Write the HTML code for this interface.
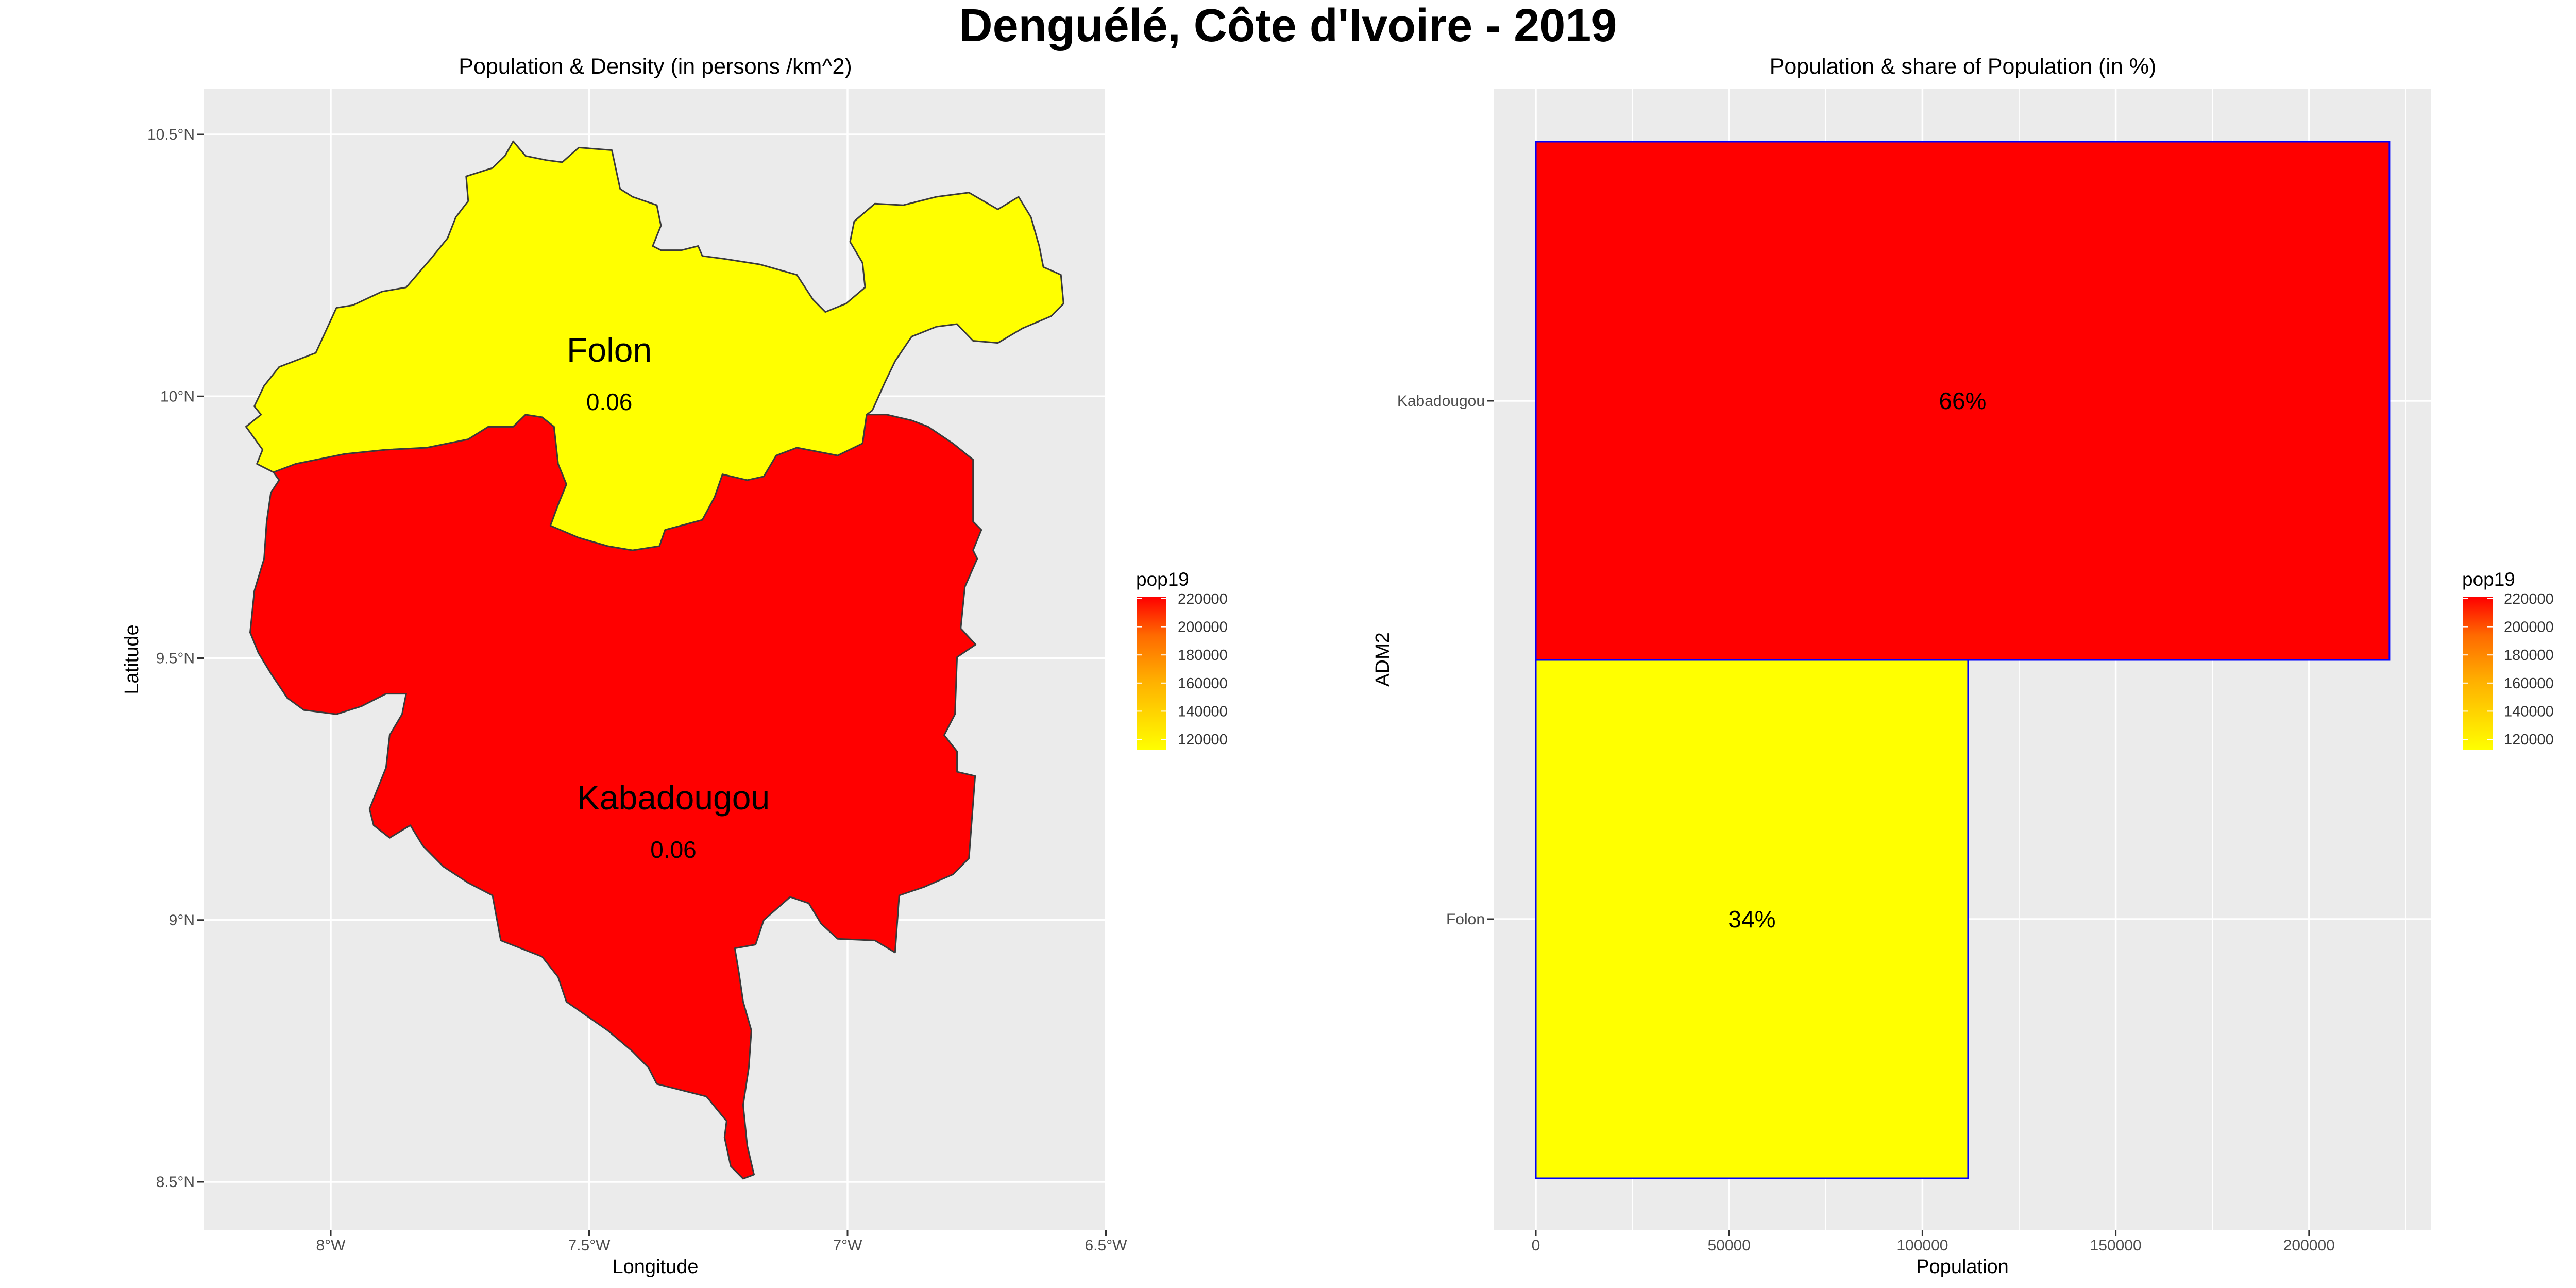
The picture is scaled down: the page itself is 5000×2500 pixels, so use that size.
<!DOCTYPE html>
<html><head><meta charset="utf-8">
<style>
html,body{margin:0;padding:0;background:#fff;}
svg{display:block;font-family:"Liberation Sans",Arial,sans-serif;}
</style></head>
<body>
<svg id="chart" xmlns="http://www.w3.org/2000/svg" width="5000" height="2500" viewBox="0 0 5000 2500">
<rect x="0" y="0" width="5000" height="2500" fill="#fff"/>
<text x="2500" y="80" font-size="90" font-weight="bold" text-anchor="middle">Denguélé, Côte d'Ivoire - 2019</text>
<g id="map"></g>
<g id="bars"></g>
</svg>
<script>
// ---------- data ----------
const regions = ["Kabadougou", "Folon"];
const pop19 = [220800, 111800];
const shares = ["66%", "34%"];
const densityLabels = ["0.06", "0.06"];
const lonTicks = [-8, -7.5, -7, -6.5];
const lonTickLabels = ["8°W", "7.5°W", "7°W", "6.5°W"];
const latTicks = [10.5, 10, 9.5, 9, 8.5];
const latTickLabels = ["10.5°N", "10°N", "9.5°N", "9°N", "8.5°N"];
const popTicks = [0, 50000, 100000, 150000, 200000];
const popMinor = [25000, 75000, 125000, 175000, 225000];
const legendTicks = [120000, 140000, 160000, 180000, 200000, 220000];
const folonOuterLon = [-8.111,-8.143,-8.132,-8.164,-8.135,-8.148,-8.129,-8.100,-8.029,-7.989,-7.957,-7.901,-7.854,-7.806,-7.774,-7.758,-7.734,-7.738,-7.687,-7.663,-7.647,-7.623,-7.583,-7.552,-7.520,-7.456,-7.440,-7.416,-7.369,-7.361,-7.377,-7.361,-7.321,-7.289,-7.281,-7.242,-7.170,-7.098,-7.067,-7.043,-7.003,-6.966,-6.971,-6.995,-6.987,-6.947,-6.892,-6.828,-6.765,-6.709,-6.669,-6.645,-6.629,-6.621,-6.587,-6.582,-6.606,-6.661,-6.709,-6.757,-6.788,-6.828,-6.876,-6.908,-6.927,-6.952,-6.963];
const folonOuterLat = [9.855,9.871,9.898,9.942,9.965,9.981,10.020,10.056,10.083,10.169,10.174,10.200,10.208,10.263,10.302,10.342,10.373,10.420,10.436,10.459,10.487,10.459,10.451,10.447,10.475,10.470,10.396,10.381,10.365,10.326,10.287,10.279,10.279,10.287,10.268,10.263,10.252,10.232,10.185,10.161,10.177,10.208,10.255,10.295,10.334,10.368,10.365,10.381,10.389,10.357,10.381,10.342,10.287,10.247,10.232,10.177,10.153,10.130,10.102,10.106,10.138,10.133,10.114,10.067,10.028,9.973,9.965];
const borderLon = [-6.963,-6.971,-7.019,-7.098,-7.138,-7.162,-7.194,-7.242,-7.257,-7.281,-7.353,-7.364,-7.416,-7.464,-7.520,-7.575,-7.560,-7.544,-7.560,-7.568,-7.591,-7.623,-7.647,-7.695,-7.734,-7.814,-7.893,-7.973,-8.068,-8.111];
const borderLat = [9.965,9.910,9.887,9.902,9.887,9.847,9.840,9.851,9.808,9.764,9.745,9.714,9.706,9.714,9.730,9.753,9.793,9.832,9.871,9.942,9.960,9.965,9.942,9.942,9.918,9.902,9.898,9.890,9.871,9.855];
const kabOuterLon = [-6.924,-6.876,-6.844,-6.796,-6.757,-6.757,-6.757,-6.741,-6.757,-6.749,-6.773,-6.781,-6.752,-6.788,-6.792,-6.813,-6.788,-6.788,-6.753,-6.765,-6.796,-6.852,-6.900,-6.908,-6.947,-7.019,-7.051,-7.075,-7.111,-7.162,-7.178,-7.218,-7.210,-7.202,-7.186,-7.191,-7.202,-7.194,-7.181,-7.202,-7.226,-7.238,-7.234,-7.273,-7.369,-7.385,-7.416,-7.464,-7.544,-7.560,-7.591,-7.671,-7.687,-7.734,-7.782,-7.822,-7.846,-7.886,-7.917,-7.925,-7.893,-7.886,-7.862,-7.854,-7.893,-7.941,-7.989,-8.052,-8.084,-8.116,-8.140,-8.156,-8.148,-8.129,-8.124,-8.116,-8.100];
const kabOuterLat = [9.965,9.954,9.942,9.910,9.879,9.800,9.761,9.745,9.706,9.690,9.636,9.557,9.526,9.502,9.393,9.353,9.322,9.283,9.275,9.118,9.087,9.063,9.047,8.938,8.961,8.964,8.993,9.032,9.044,9.000,8.953,8.946,8.898,8.844,8.789,8.718,8.647,8.569,8.514,8.506,8.530,8.585,8.616,8.663,8.687,8.718,8.749,8.789,8.844,8.891,8.930,8.961,9.047,9.071,9.102,9.142,9.181,9.157,9.181,9.212,9.291,9.353,9.393,9.432,9.432,9.408,9.393,9.401,9.424,9.471,9.510,9.549,9.628,9.690,9.761,9.816,9.840];
const folonLabelPos = [-7.461, 10.089];
const kabLabelPos = [-7.337, 9.234];

// ---------- helpers ----------
const NS = "http://www.w3.org/2000/svg";
function mk(tag, attrs, parent, txt) {
  const e = document.createElementNS(NS, tag);
  for (const k in attrs) e.setAttribute(k, attrs[k]);
  if (txt !== undefined) e.textContent = txt;
  parent.appendChild(e);
  return e;
}
const GRID = "#FFFFFF", PANEL = "#EBEBEB", TICKC = "#333333", TLAB = "#4D4D4D";

// ---------- map panel ----------
const map = document.getElementById("map");
const mL = 395, mR = 2146, mT = 172, mB = 2388;
const xLon = lon => 642 + (lon + 8) * 1003;
const yLat = lat => 261 + (10.5 - lat) * 1016.5;
let e;
e = mk("rect", {x: mL, y: mT, width: mR - mL, height: mB - mT, fill: PANEL}, map);


lonTicks.forEach((v, i) => {
  const x = xLon(v);
  e = mk("line", {x1: x, x2: x, y1: mT, y2: mB, stroke: GRID, "stroke-width": 3.5}, map);
  
  
  e = mk("line", {x1: x, x2: x, y1: mB, y2: mB + 12, stroke: TICKC, "stroke-width": 3}, map);
  
  
  e = mk("text", {x: x, y: 2427, "font-size": 30, fill: TLAB, "text-anchor": "middle"}, map, lonTickLabels[i]);
  
  
});
latTicks.forEach((v, i) => {
  const y = yLat(v);
  e = mk("line", {x1: mL, x2: mR, y1: y, y2: y, stroke: GRID, "stroke-width": 3.5}, map);
  
  
  e = mk("line", {x1: mL - 12, x2: mL, y1: y, y2: y, stroke: TICKC, "stroke-width": 3}, map);
  
  
  e = mk("text", {x: mL - 17, y: y + 10, "font-size": 30, fill: TLAB, "text-anchor": "end"}, map, latTickLabels[i]);
  
  
});
function pts(lons, lats) { return lons.map((l, i) => xLon(l).toFixed(1) + "," + yLat(lats[i]).toFixed(1)); }
const borderPts = pts(borderLon, borderLat);
const folonPts = pts(folonOuterLon, folonOuterLat).concat(borderPts);
const kabPts = borderPts.slice().reverse().concat(pts(kabOuterLon, kabOuterLat));
function colorFor(v) {
  const t = Math.max(0, Math.min(1, (v - 111800) / (220800 - 111800)));
  const g = Math.round(255 * (1 - t));
  return "rgb(255," + g + ",0)";
}
e = mk("polygon", {points: kabPts.join(" "), fill: colorFor(pop19[0]), stroke: "#3a3a3a", "stroke-width": 3, "stroke-linejoin": "round"}, map);


e = mk("polygon", {points: folonPts.join(" "), fill: colorFor(pop19[1]), stroke: "#3a3a3a", "stroke-width": 3, "stroke-linejoin": "round"}, map);


e = mk("text", {x: xLon(folonLabelPos[0]), y: yLat(folonLabelPos[1]) + 23, "font-size": 66, "text-anchor": "middle"}, map, regions[1]);


e = mk("text", {x: xLon(folonLabelPos[0]), y: yLat(folonLabelPos[1]) + 117, "font-size": 46, "text-anchor": "middle"}, map, densityLabels[1]);


e = mk("text", {x: xLon(kabLabelPos[0]), y: yLat(kabLabelPos[1]) + 23, "font-size": 66, "text-anchor": "middle"}, map, regions[0]);


e = mk("text", {x: xLon(kabLabelPos[0]), y: yLat(kabLabelPos[1]) + 117, "font-size": 46, "text-anchor": "middle"}, map, densityLabels[0]);


e = mk("text", {x: 1272, y: 143, "font-size": 43, "text-anchor": "middle"}, map, "Population & Density (in persons /km^2)");


e = mk("text", {x: 1272, y: 2471, "font-size": 38, "text-anchor": "middle"}, map, "Longitude");


e = mk("text", {x: 268, y: 1280, "font-size": 38, "text-anchor": "middle", transform: "rotate(-90 268 1280)"}, map, "Latitude");



// ---------- legend ----------
let gid = 0;
function legend(parent, x0) {
  const bT = 1159, bB = 1456, bW = 58;
  const yL = v => 1435 - (v - 120000) / 100000 * 273;
  const id = "grad" + (gid++);
  const defs = mk("defs", {}, parent);
  const lg = mk("linearGradient", {id: id, x1: 0, y1: 1, x2: 0, y2: 0}, defs);
  mk("stop", {offset: "0", "stop-color": "#FFFF00"}, lg);
  mk("stop", {offset: "0.45", "stop-color": "#FFB000"}, lg);
  mk("stop", {offset: "0.75", "stop-color": "#FF6A00"}, lg);
  mk("stop", {offset: "1", "stop-color": "#FF0000"}, lg);
  e = mk("text", {x: x0 - 1, y: 1137, "font-size": 37}, parent, "pop19");
  
  
  e = mk("rect", {x: x0, y: bT, width: bW, height: bB - bT, fill: "url(#" + id + ")"}, parent);
  
  
  legendTicks.forEach(v => {
    const y = yL(v);
    e = mk("line", {x1: x0, x2: x0 + 11, y1: y, y2: y, stroke: "#fff", "stroke-width": 2}, parent);
    
    
    e = mk("line", {x1: x0 + bW - 11, x2: x0 + bW, y1: y, y2: y, stroke: "#fff", "stroke-width": 2}, parent);
    
    
    e = mk("text", {x: x0 + 80, y: y + 10, "font-size": 29, fill: "#333"}, parent, String(v));
    
    
  });
}
legend(map, 2206);

// ---------- bar panel ----------
const bars = document.getElementById("bars");
const bL = 2899, bR = 4719, bT0 = 172, bB0 = 2388;
const xPop = v => 2981 + v / 50000 * 375.2;
const catY = [778, 1784];
const bandH = 1006;
e = mk("rect", {x: bL, y: bT0, width: bR - bL, height: bB0 - bT0, fill: PANEL}, bars);


popMinor.forEach(v => {
  const x = xPop(v);
  if (x > bR) return;
  e = mk("line", {x1: x, x2: x, y1: bT0, y2: bB0, stroke: GRID, "stroke-width": 1.7}, bars);
  
  
});
popTicks.forEach(v => {
  const x = xPop(v);
  e = mk("line", {x1: x, x2: x, y1: bT0, y2: bB0, stroke: GRID, "stroke-width": 3.5}, bars);
  
  
  e = mk("line", {x1: x, x2: x, y1: bB0, y2: bB0 + 12, stroke: TICKC, "stroke-width": 3}, bars);
  
  
  e = mk("text", {x: x, y: 2427, "font-size": 30, fill: TLAB, "text-anchor": "middle"}, bars, String(v));
  
  
});
regions.forEach((r, i) => {
  const y = catY[i];
  e = mk("line", {x1: bL, x2: bR, y1: y, y2: y, stroke: GRID, "stroke-width": 3.5}, bars);
  
  
  e = mk("line", {x1: bL - 12, x2: bL, y1: y, y2: y, stroke: TICKC, "stroke-width": 3}, bars);
  
  
  e = mk("text", {x: bL - 17, y: y + 10, "font-size": 30, fill: TLAB, "text-anchor": "end"}, bars, r);
  
  
});
regions.forEach((r, i) => {
  const y = catY[i] - bandH / 2;
  const x0 = xPop(0), x1 = xPop(pop19[i]);
  e = mk("rect", {x: x0, y: y, width: x1 - x0, height: bandH, fill: colorFor(pop19[i]), stroke: "#0000FF", "stroke-width": 3}, bars);
  
  
});
regions.forEach((r, i) => {
  const cx = (xPop(0) + xPop(pop19[i])) / 2;
  e = mk("text", {x: cx, y: catY[i] + 16, "font-size": 46, "text-anchor": "middle"}, bars, shares[i]);
  
  
});
e = mk("text", {x: 3810, y: 143, "font-size": 43, "text-anchor": "middle"}, bars, "Population & share of Population (in %)");


e = mk("text", {x: 3809, y: 2471, "font-size": 38, "text-anchor": "middle"}, bars, "Population");


e = mk("text", {x: 2696, y: 1280, "font-size": 38, "text-anchor": "middle", transform: "rotate(-90 2696 1280)"}, bars, "ADM2");


legend(bars, 4780);
</script>
</body></html>
